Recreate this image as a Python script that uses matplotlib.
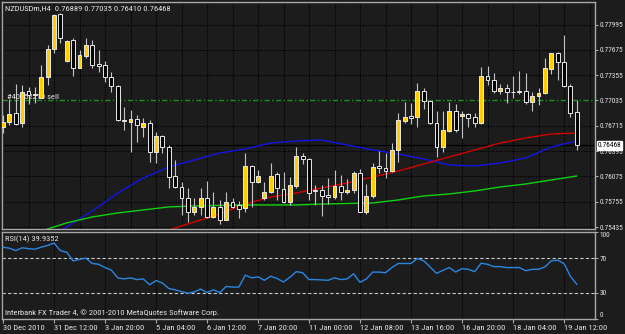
import matplotlib
matplotlib.use('Agg')
import matplotlib.pyplot as plt
import matplotlib.transforms as mtransforms
from matplotlib import font_manager

# pick a narrow font similar to the MT4 UI font
FONT, FS = 'DejaVu Sans', 5.0
for fam, size in [('Liberation Sans Narrow', 6.4), ('DejaVu Sans Condensed', 5.4),
                  ('Roboto Condensed', 6.1), ('Liberation Sans', 5.6)]:
    try:
        font_manager.findfont(font_manager.FontProperties(family=fam), fallback_to_default=False)
        FONT, FS = fam, size
        break
    except Exception:
        continue
plt.rcParams['font.family'] = [FONT, 'DejaVu Sans']
FS_AX = FS * 0.87

# ---------------- data ----------------
opens = [0.76700, 0.76763, 0.76877, 0.76750, 0.77155, 0.77117, 0.77066, 0.77332, 0.77686, 0.78128,
         0.77534, 0.77799, 0.77445, 0.77597, 0.77736, 0.77496, 0.77483, 0.77332, 0.77218, 0.76788,
         0.76763, 0.76801, 0.76700, 0.76750, 0.76384, 0.76586, 0.76447, 0.76080, 0.75941, 0.75802,
         0.75625, 0.75689, 0.75802, 0.75562, 0.75689, 0.75524, 0.75752, 0.75714, 0.75676, 0.76207,
         0.76005, 0.75802, 0.75878, 0.76106, 0.75916, 0.75752, 0.75954, 0.76333, 0.76295, 0.75903,
         0.75903, 0.75840, 0.75815, 0.75954, 0.75878, 0.75903, 0.76118, 0.75625, 0.75828, 0.76207,
         0.76181, 0.76144, 0.76409, 0.76776, 0.76839, 0.76826, 0.77155, 0.77028, 0.76750, 0.76447,
         0.76649, 0.76902, 0.76839, 0.76864, 0.76826, 0.76750, 0.77344, 0.77294, 0.77155, 0.77193,
         0.77142, 0.77155, 0.77155, 0.77016, 0.77092, 0.77129, 0.77433, 0.77635, 0.77521, 0.77218,
         0.76889]
highs = [0.76851, 0.77054, 0.77243, 0.77231, 0.77205, 0.77205, 0.77483, 0.77736, 0.78128, 0.78135,
         0.77799, 0.77825, 0.77673, 0.77825, 0.77799, 0.77673, 0.77534, 0.77395, 0.77225, 0.76953,
         0.76915, 0.76851, 0.76813, 0.76788, 0.76637, 0.76599, 0.76472, 0.76283, 0.76005, 0.75929,
         0.75802, 0.75929, 0.76017, 0.75878, 0.75777, 0.75878, 0.75802, 0.75764, 0.76371, 0.76219,
         0.76156, 0.76005, 0.76245, 0.76131, 0.76131, 0.76068, 0.76447, 0.76371, 0.76308, 0.75967,
         0.75967, 0.76055, 0.76156, 0.76093, 0.76042, 0.76144, 0.76169, 0.75979, 0.76245, 0.76396,
         0.76371, 0.76497, 0.76877, 0.77016, 0.77003, 0.77256, 0.77193, 0.77035, 0.76902, 0.76902,
         0.77016, 0.76990, 0.76902, 0.76877, 0.76877, 0.77458, 0.77471, 0.77382, 0.77243, 0.77243,
         0.77344, 0.77408, 0.77382, 0.77142, 0.77193, 0.77572, 0.77640, 0.77648, 0.77863, 0.77243,
         0.77035]
lows = [0.76624, 0.76725, 0.76730, 0.76700, 0.76990, 0.77003, 0.77060, 0.77231, 0.77635, 0.77761,
        0.77521, 0.77344, 0.77440, 0.77572, 0.77445, 0.77395, 0.77269, 0.77142, 0.76776, 0.76662,
        0.76384, 0.76510, 0.76573, 0.76257, 0.76245, 0.76371, 0.75929, 0.75929, 0.75587, 0.75499,
        0.75587, 0.75587, 0.75549, 0.75549, 0.75474, 0.75520, 0.75676, 0.75549, 0.75625, 0.75689,
        0.75992, 0.75777, 0.75865, 0.75777, 0.75739, 0.75714, 0.75929, 0.76232, 0.75777, 0.75714,
        0.75575, 0.75726, 0.75790, 0.75777, 0.75853, 0.75865, 0.75620, 0.75600, 0.75802, 0.76118,
        0.76055, 0.76131, 0.76257, 0.76750, 0.76738, 0.76700, 0.76927, 0.76738, 0.76321, 0.76384,
        0.76637, 0.76637, 0.76561, 0.76700, 0.76700, 0.76738, 0.77231, 0.77129, 0.77117, 0.77003,
        0.77066, 0.77117, 0.76990, 0.76902, 0.76978, 0.77117, 0.77370, 0.77294, 0.77210, 0.76826,
        0.76410]
closes = [0.76763, 0.76864, 0.76738, 0.77142, 0.77104, 0.77104, 0.77332, 0.77686, 0.78115, 0.77825,
          0.77790, 0.77445, 0.77610, 0.77736, 0.77483, 0.77471, 0.77332, 0.77218, 0.76788, 0.76776,
          0.76801, 0.76725, 0.76750, 0.76384, 0.76586, 0.76447, 0.76068, 0.75941, 0.75802, 0.75625,
          0.75689, 0.75802, 0.75562, 0.75689, 0.75524, 0.75752, 0.75689, 0.75663, 0.76207, 0.76005,
          0.76080, 0.75878, 0.76080, 0.75929, 0.75752, 0.75967, 0.76333, 0.76295, 0.75865, 0.75891,
          0.75828, 0.75815, 0.75954, 0.75878, 0.75903, 0.76118, 0.75625, 0.75828, 0.76194, 0.76181,
          0.76144, 0.76409, 0.76788, 0.76826, 0.76813, 0.77155, 0.77028, 0.76750, 0.76447, 0.76662,
          0.76902, 0.76662, 0.76864, 0.76813, 0.76750, 0.77344, 0.77294, 0.77155, 0.77193, 0.77142,
          0.77140, 0.77142, 0.77016, 0.77092, 0.77129, 0.77445, 0.77635, 0.77521, 0.77218, 0.76877,
          0.76468]

blue_idx = [9, 10, 14, 18, 22, 26, 30, 34, 38, 42, 46, 50, 54, 58, 62, 66, 70, 74, 78, 82, 86, 90]
blue_ma = [0.75390, 0.75436, 0.75638, 0.75865, 0.76055, 0.76194, 0.76283, 0.76371, 0.76422, 0.76497,
           0.76523, 0.76535, 0.76472, 0.76409, 0.76358, 0.76295, 0.76219, 0.76207, 0.76245, 0.76308,
           0.76447, 0.76523]
red_idx = [26, 30, 34, 38, 42, 46, 50, 54, 58, 62, 66, 70, 74, 78, 82, 86, 90]
red_ma = [0.75398, 0.75499, 0.75600, 0.75726, 0.75815, 0.75865, 0.75929, 0.75992, 0.76068, 0.76144,
          0.76232, 0.76321, 0.76409, 0.76497, 0.76561, 0.76611, 0.76624]
green_idx = [6, 10, 14, 18, 22, 26, 30, 34, 38, 42, 46, 50, 54, 58, 62, 66, 70, 74, 78, 82, 86, 90]
green_ma = [0.75385, 0.75487, 0.75562, 0.75613, 0.75651, 0.75689, 0.75701, 0.75708, 0.75714, 0.75714,
            0.75714, 0.75726, 0.75733, 0.75739, 0.75777, 0.75828, 0.75853, 0.75891, 0.75941, 0.75979,
            0.76030, 0.76080]

rsi = [82.6, 81.4, 78.6, 81.8, 80.9, 80.2, 82.6, 84.5, 87.3, 78.6,
       76.7, 66.8, 68.5, 70.0, 63.8, 62.9, 59.1, 56.2, 47.3, 46.1,
       47.3, 45.3, 46.1, 39.4, 44.1, 41.4, 35.1, 33.5, 31.5, 29.6,
       31.2, 34.4, 30.4, 33.5, 30.4, 37.4, 36.7, 36.7, 50.4, 47.3,
       48.5, 44.5, 49.2, 46.5, 42.6, 48.0, 54.4, 53.2, 45.3, 45.3,
       44.9, 44.5, 47.3, 45.3, 46.1, 52.0, 42.1, 46.1, 53.9, 53.9,
       53.2, 59.1, 63.8, 63.8, 63.8, 69.6, 66.8, 59.8, 52.4, 55.9,
       59.1, 53.9, 57.9, 57.1, 54.4, 64.1, 62.9, 60.2, 60.2, 59.1,
       59.1, 59.1, 55.5, 57.1, 57.1, 59.8, 66.8, 67.6, 63.8, 49.2,
       39.94]

price_ticks = [0.75435, 0.75755, 0.76075, 0.76395, 0.76715, 0.77035, 0.77355, 0.77675, 0.77995]
rsi_ticks = [0, 30, 70, 100]
time_labels = ["30 Dec 2010", "31 Dec 12:00", "3 Jan 20:00", "5 Jan 04:00", "6 Jan 12:00",
               "7 Jan 20:00", "11 Jan 00:00", "12 Jan 08:00", "13 Jan 16:00", "16 Jan 20:00",
               "18 Jan 04:00", "19 Jan 12:00"]
order_price = 0.77040
bid_price = 0.76468

# ---------------- style ----------------
W, H = 625, 334
bg = '#1c1c1c'
txt = '#e4e4e4'
frame = '#a8a8a8'

fig = plt.figure(figsize=(W / 100, H / 100), dpi=100, facecolor=bg)
ax = fig.add_axes([2 / W, 1 - 229 / H, 593 / W, 227.5 / H], facecolor=bg)
rax = fig.add_axes([2 / W, 1 - 319 / H, 593 / W, 87 / H], facecolor=bg)

n = len(opens)
xs = list(range(n))
xlim = (-1 / 6.375, 592 / 6.375)

for a in (ax, rax):
    a.set_xlim(*xlim)
    for s in a.spines.values():
        s.set_color(frame)
        s.set_linewidth(1.0)
    a.tick_params(colors=txt, labelsize=FS, length=3, width=0.8, pad=1.5)
    a.tick_params(axis='y', colors=frame, labelcolor=txt, labelsize=FS_AX, length=2.5, pad=1.0)
    a.yaxis.tick_right()

# ---------------- main price panel ----------------
ax.set_ylim(0.75410, 0.78286)
ax.set_yticks(price_ticks)
ax.set_yticklabels([f"{p:.5f}" for p in price_ticks])
ax.set_xticks(range(0, n + 2, 4))
ax.tick_params(axis='x', bottom=False, labelbottom=False)
ax.grid(True, color='#000000', linestyle=(0, (1.2, 1.2)), linewidth=0.8)
ax.set_axisbelow(True)

ax.axhline(bid_price, color='#000000', linewidth=0.9, zorder=1.5)
ax.axhline(order_price, color='#1d8f1d', linewidth=1.0,
           linestyle=(0, (4, 1.5, 1.2, 1.5)), zorder=1.6)

ax.plot(blue_idx, blue_ma, color='#1414e6', linewidth=1.0, zorder=2)
ax.plot(red_idx, red_ma, color='#d20000', linewidth=1.0, zorder=2)
ax.plot(green_idx, green_ma, color='#10d010', linewidth=1.0, zorder=2)

ax.vlines(xs, lows, highs, color='#c4c4c4', linewidth=0.8, zorder=3)
bodies_bottom = [min(o, c) for o, c in zip(opens, closes)]
bodies_h = [abs(c - o) for o, c in zip(opens, closes)]
fills = ['#ffcc00' if c > o else '#050505' for o, c in zip(opens, closes)]
ax.bar(xs, bodies_h, bottom=bodies_bottom, width=0.62, color=fills,
       edgecolor='#e8e8e8', linewidth=0.7, zorder=4)

fig.text(5 / W, 1 - 8 / H, "NZDUSDm,H4  0.76889 0.77035 0.76410 0.76468",
         color=txt, fontsize=FS, va='center', ha='left')
ax.text(0.6, order_price + 0.00005, "#40852210 sell", color=txt, fontsize=FS,
        va='bottom', ha='left', zorder=3.5)

tr = mtransforms.blended_transform_factory(ax.transAxes, ax.transData)
ax.text(1.005, bid_price, "0.76468", transform=tr, color='black', fontsize=FS_AX,
        va='center', ha='left', clip_on=False, zorder=10,
        bbox=dict(boxstyle='square,pad=0.1', facecolor='white', edgecolor='white'))

# ---------------- RSI panel ----------------
rax.set_ylim(0, 100)
rax.plot(xs, rsi, color='#2a86e0', linewidth=1.0, zorder=3)
for lvl in (30, 70):
    rax.axhline(lvl, color='#c8c8c8', linewidth=0.8, linestyle=(0, (3, 2)), zorder=2)
rax.set_yticks(rsi_ticks)
rax.set_yticklabels([str(t) for t in rsi_ticks])
for lab, t in zip(rax.get_yticklabels(), rsi_ticks):
    if t == 100:
        lab.set_va('top')
    elif t == 0:
        lab.set_va('bottom')
rax.set_xticks(range(0, n, 8))
rax.set_xticklabels(time_labels, ha='left')
rax.tick_params(axis='x', pad=1.5, colors=frame, labelcolor=txt)
rax.grid(True, axis='x', color='#000000', linestyle=(0, (1.2, 1.2)), linewidth=0.8)
rax.set_axisbelow(True)

rax.text(0.005, 0.92, "RSI(14) 39.9352", transform=rax.transAxes, color=txt,
         fontsize=FS, va='center', ha='left')
rax.text(0.005, 0.075, "Interbank FX Trader 4, \u00a9 2001-2010 MetaQuotes Software Corp.",
         transform=rax.transAxes, color=txt, fontsize=FS, va='center', ha='left')

fig.savefig('out.png', dpi=100, facecolor=bg)
